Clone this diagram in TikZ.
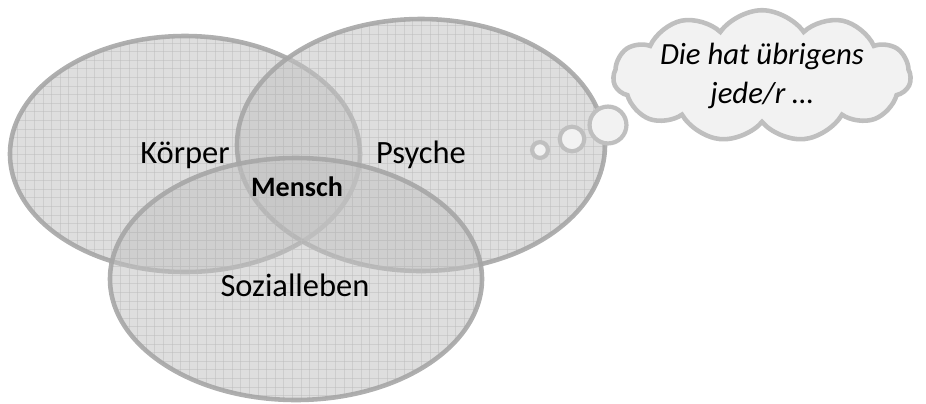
\documentclass[tikz,border=0pt]{standalone}
\usepackage{fontspec}
\setmainfont{Carlito}
\usetikzlibrary{shapes.symbols}
\definecolor{venngray}{HTML}{C3C3C3}
\definecolor{rimgray}{HTML}{A6A6A6}
\definecolor{gridgray}{HTML}{BDBDBD}
\definecolor{cloudfill}{HTML}{F2F2F2}
\definecolor{cloudrim}{HTML}{BFBFBF}

\tikzset{
  venn/.style={fill=venngray, fill opacity=0.55},
  vennrim/.style={draw=rimgray, line width=2.6pt, draw opacity=0.9},
  gridline/.style={gridgray, line width=0.45pt, opacity=0.5},
  label/.style={text=black, font=\fontsize{18.5}{21}\selectfont},
  bubble/.style={draw=cloudrim, fill=cloudfill, line width=2.4pt},
}

\begin{document}
\begin{tikzpicture}[x=0.02cm, y=-0.02cm]
\useasboundingbox (0,0) rectangle (926,403);

% centres of the three sets
\coordinate (koerper) at (185,154);
\coordinate (psyche) at (421,145);
\coordinate (sozial) at (296,279);

% Koerper
\fill[venn] (koerper) ellipse (175 and 118);
\begin{scope}
  \clip (koerper) ellipse (175 and 118);
  \foreach \gx in {0,8.6,...,926} \draw[gridline] (\gx,0) -- (\gx,403);
  \foreach \gy in {0,8.6,...,403} \draw[gridline] (0,\gy) -- (926,\gy);
\end{scope}
\draw[vennrim] (koerper) ellipse (175 and 118);

% Psyche
\fill[venn] (psyche) ellipse (184 and 126);
\begin{scope}
  \clip (psyche) ellipse (184 and 126);
  \foreach \gx in {0,8.6,...,926} \draw[gridline] (\gx,0) -- (\gx,403);
  \foreach \gy in {0,8.6,...,403} \draw[gridline] (0,\gy) -- (926,\gy);
\end{scope}
\draw[vennrim] (psyche) ellipse (184 and 126);

% Sozialleben
\fill[venn] (sozial) ellipse (186 and 121);
\begin{scope}
  \clip (sozial) ellipse (186 and 121);
  \foreach \gx in {0,8.6,...,926} \draw[gridline] (\gx,0) -- (\gx,403);
  \foreach \gy in {0,8.6,...,403} \draw[gridline] (0,\gy) -- (926,\gy);
\end{scope}
\draw[vennrim] (sozial) ellipse (186 and 121);

% Labels
\node[label] (lkoerper) at (185,155) {Körper};
\node[label] (lpsyche) at (421,155) {Psyche};
\node[label] (lsozial) at (295,285) {Sozialleben};
\node[text=black, font=\fontsize{16}{18}\bfseries] (lmensch) at (297,187) {Mensch};

% Thought bubbles
\node[bubble, circle, minimum size=9pt, inner sep=0pt] (b1) at (540,150) {};
\node[bubble, circle, minimum size=14pt, inner sep=0pt] (b2) at (572,139) {};
\node[bubble, circle, minimum size=21pt, inner sep=0pt] (b3) at (608,125) {};

% Cloud
\node[cloud, cloud puffs=11, cloud puff arc=110, aspect=3.1,
      draw=cloudrim, fill=cloudfill, line width=2.6pt,
      minimum width=5.95cm, minimum height=2.3cm, inner sep=0pt,
      align=center, font=\itshape\fontsize{17.5}{22}\selectfont] (gedanke) at (762,76)
  {Die hat übrigens\\jede/r \dots};

\end{tikzpicture}
\end{document}
